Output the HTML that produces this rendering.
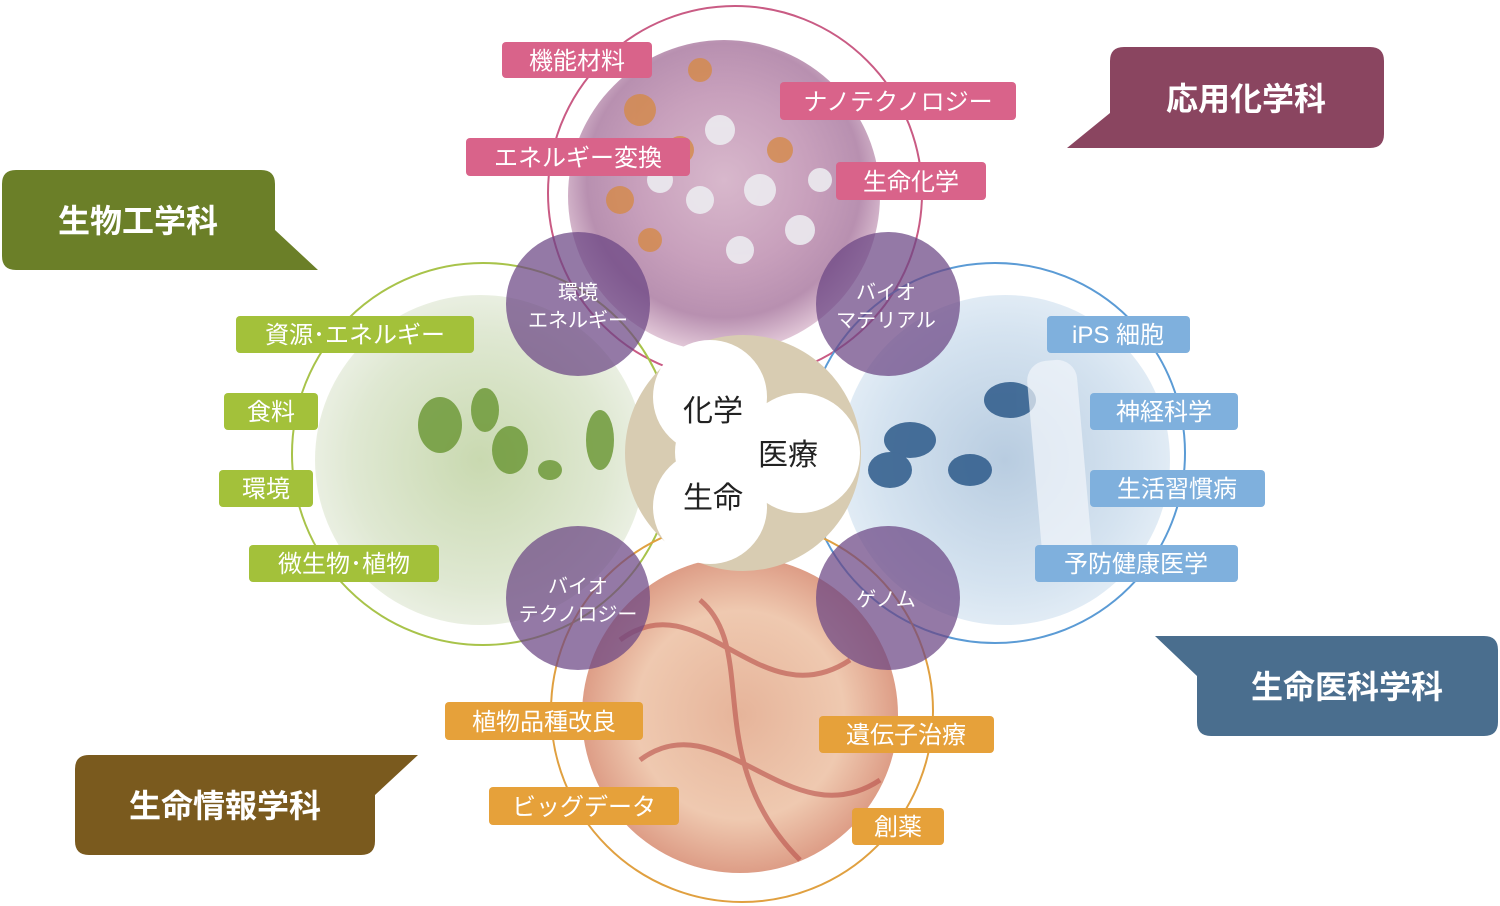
<!DOCTYPE html>
<html><head><meta charset="utf-8"><style>
html,body{margin:0;padding:0;background:#fff}
svg{display:block}
text{font-family:"Liberation Sans","Noto Sans CJK JP",sans-serif}
</style></head><body>
<svg width="1500" height="906" viewBox="0 0 1500 906" xmlns="http://www.w3.org/2000/svg">
<defs>
<radialGradient id="gTop" cx="0.5" cy="0.45" r="0.55">
<stop offset="0" stop-color="#d8b8cc"/><stop offset="0.5" stop-color="#c8a0bc"/><stop offset="0.8" stop-color="#b890b0"/><stop offset="1" stop-color="#e2c8d8"/></radialGradient>
<radialGradient id="gLeft" cx="0.5" cy="0.5" r="0.55">
<stop offset="0" stop-color="#c9d9b0"/><stop offset="0.7" stop-color="#dfe8d2"/><stop offset="1" stop-color="#eef2e8"/></radialGradient>
<radialGradient id="gRight" cx="0.5" cy="0.5" r="0.55">
<stop offset="0" stop-color="#b8cce0"/><stop offset="0.7" stop-color="#d5e3f0"/><stop offset="1" stop-color="#e6eff7"/></radialGradient>
<radialGradient id="gBot" cx="0.5" cy="0.5" r="0.55">
<stop offset="0" stop-color="#e6b49a"/><stop offset="0.6" stop-color="#efc9b0"/><stop offset="1" stop-color="#d8907a"/></radialGradient>
</defs>

<circle cx="724" cy="196" r="156" fill="url(#gTop)"/>
<g fill="#d58a48" opacity="0.8"><circle cx="640" cy="110" r="16"/><circle cx="680" cy="150" r="14"/><circle cx="620" cy="200" r="14"/><circle cx="780" cy="150" r="13"/><circle cx="700" cy="70" r="12"/><circle cx="650" cy="240" r="12"/></g>
<g fill="#ecebf0" opacity="0.9"><circle cx="720" cy="130" r="15"/><circle cx="760" cy="190" r="16"/><circle cx="800" cy="230" r="15"/><circle cx="660" cy="180" r="13"/><circle cx="820" cy="180" r="12"/><circle cx="740" cy="250" r="14"/><circle cx="700" cy="200" r="14"/></g>
<circle cx="480" cy="460" r="165" fill="url(#gLeft)"/>
<g fill="#6f9a3a" opacity="0.85"><ellipse cx="440" cy="425" rx="22" ry="28"/><ellipse cx="510" cy="450" rx="18" ry="24"/><ellipse cx="485" cy="410" rx="14" ry="22"/><ellipse cx="600" cy="440" rx="14" ry="30"/><ellipse cx="550" cy="470" rx="12" ry="10"/></g>
<circle cx="1005" cy="460" r="165" fill="url(#gRight)"/>
<g fill="#2d5a8a" opacity="0.85"><ellipse cx="910" cy="440" rx="26" ry="18"/><ellipse cx="890" cy="470" rx="22" ry="18"/><ellipse cx="970" cy="470" rx="22" ry="16"/><ellipse cx="1010" cy="400" rx="26" ry="18"/></g>
<g fill="#f2f6fb" opacity="0.7"><rect x="1035" y="360" width="50" height="220" rx="20" transform="rotate(-5 1060 470)"/></g>
<circle cx="740" cy="715" r="158" fill="url(#gBot)"/>
<g fill="none" stroke="#b9504a" stroke-width="5" opacity="0.6"><path d="M620 640 C700 580 760 720 850 660"/><path d="M640 760 C720 700 790 840 880 780"/><path d="M700 600 C760 650 700 760 800 860"/></g>

<g fill="none" stroke-width="2">
<circle cx="735" cy="193" r="187" stroke="#c95b84"/>
<circle cx="483" cy="454" r="191" stroke="#a8c34a"/>
<circle cx="995" cy="453" r="190" stroke="#5b9bd5"/>
<circle cx="742" cy="711" r="191" stroke="#e0a040"/>
</g>

<circle cx="743" cy="453" r="118" fill="#d8ccb2"/>
<g fill="#fff">
<circle cx="710" cy="397" r="57"/><circle cx="800" cy="453" r="60"/><circle cx="710" cy="507" r="57"/><circle cx="730" cy="452" r="55"/>
</g>

<g fill="#6b4584" opacity="0.72">
<circle cx="578" cy="304" r="72"/><circle cx="888" cy="304" r="72"/><circle cx="578" cy="598" r="72"/><circle cx="888" cy="598" r="72"/>
</g>
<g fill="#fff" font-size="20" text-anchor="middle">
<text x="578" y="299">環境</text><text x="578" y="327">エネルギー</text>
<text x="886" y="299">バイオ</text><text x="886" y="327">マテリアル</text>
<text x="578" y="593">バイオ</text><text x="578" y="621">テクノロジー</text>
<text x="886" y="606">ゲノム</text>
</g>
<g fill="#222" font-size="30" text-anchor="middle">
<text x="713" y="421">化学</text><text x="788" y="465">医療</text><text x="713" y="508">生命</text>
</g>

<g font-size="24" fill="#fff" text-anchor="middle">
<g><rect x="502" y="42" width="150" height="36" rx="4" fill="#d9638a"/><text x="577" y="69">機能材料</text></g>
<g><rect x="780" y="82" width="236" height="38" rx="4" fill="#d9638a"/><text x="898" y="110">ナノテクノロジー</text></g>
<g><rect x="466" y="138" width="224" height="38" rx="4" fill="#d9638a"/><text x="578" y="166">エネルギー変換</text></g>
<g><rect x="836" y="162" width="150" height="38" rx="4" fill="#d9638a"/><text x="911" y="190">生命化学</text></g>

<g><rect x="236" y="316" width="238" height="37" rx="4" fill="#a3c13a"/><text x="355" y="343">資源･エネルギー</text></g>
<g><rect x="224" y="393" width="94" height="37" rx="4" fill="#a3c13a"/><text x="271" y="420">食料</text></g>
<g><rect x="219" y="470" width="94" height="37" rx="4" fill="#a3c13a"/><text x="266" y="497">環境</text></g>
<g><rect x="249" y="545" width="190" height="37" rx="4" fill="#a3c13a"/><text x="344" y="572">微生物･植物</text></g>

<g><rect x="1047" y="316" width="143" height="37" rx="4" fill="#7fb0dd"/><text x="1118" y="343">iPS 細胞</text></g>
<g><rect x="1090" y="393" width="148" height="37" rx="4" fill="#7fb0dd"/><text x="1164" y="420">神経科学</text></g>
<g><rect x="1090" y="470" width="175" height="37" rx="4" fill="#7fb0dd"/><text x="1177" y="497">生活習慣病</text></g>
<g><rect x="1035" y="545" width="203" height="37" rx="4" fill="#7fb0dd"/><text x="1136" y="572">予防健康医学</text></g>

<g><rect x="445" y="702" width="198" height="38" rx="4" fill="#e6a13a"/><text x="544" y="730">植物品種改良</text></g>
<g><rect x="489" y="787" width="190" height="38" rx="4" fill="#e6a13a"/><text x="584" y="815">ビッグデータ</text></g>
<g><rect x="819" y="716" width="175" height="37" rx="4" fill="#e6a13a"/><text x="906" y="743">遺伝子治療</text></g>
<g><rect x="852" y="808" width="92" height="37" rx="4" fill="#e6a13a"/><text x="898" y="835">創薬</text></g>
</g>

<g font-size="32" font-weight="bold" fill="#fff" text-anchor="middle">
<path d="M1124 47 H1370 Q1384 47 1384 61 V134 Q1384 148 1370 148 H1067 L1110 113 V61 Q1110 47 1124 47Z" fill="#8a4560"/>
<text x="1246" y="110">応用化学科</text>
<path d="M16 170 H261 Q275 170 275 184 V230 L318 270 H16 Q2 270 2 256 V184 Q2 170 16 170Z" fill="#6b7f28"/>
<text x="138" y="232">生物工学科</text>
<path d="M1211 636 H1484 Q1498 636 1498 650 V722 Q1498 736 1484 736 H1211 Q1197 736 1197 722 V676 L1155 636 Z" fill="#4a6e8e"/>
<text x="1347" y="698">生命医科学科</text>
<path d="M89 755 H418 L375 795 V841 Q375 855 361 855 H89 Q75 855 75 841 V769 Q75 755 89 755Z" fill="#7a5a1e"/>
<text x="225" y="817">生命情報学科</text>
</g>
</svg>
</body></html>
